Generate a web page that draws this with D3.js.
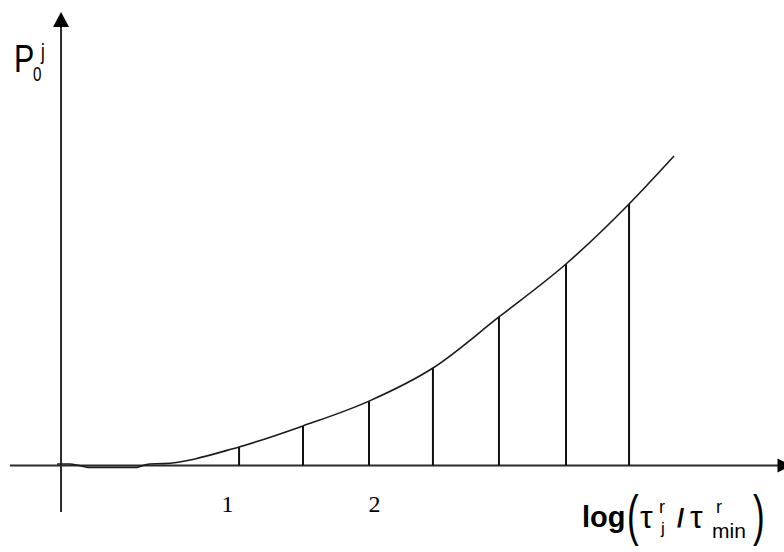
<!DOCTYPE html>
<html>
<head>
<meta charset="utf-8">
<script src="https://cdn.jsdelivr.net/npm/d3@7/dist/d3.min.js"></script>
<style>
  html, body { margin: 0; padding: 0; background: #ffffff; }
  svg { display: block; }
</style>
</head>
<body>
<svg id="chart" width="784" height="552"></svg>
<script>
// ---- data ----
const xTickValues = [1, 2];
const xTickLabels = ["1", "2"];
const barX = [1.082, 1.517, 1.966, 2.401, 2.850, 3.306, 3.735];
const barY = [0.060, 0.128, 0.208, 0.315, 0.480, 0.651, 0.845];
const curveX = [-0.156, -0.068, -0.007, 0.054, 0.388, 0.429, 0.476, 0.565,
                1.082, 1.517, 1.966, 2.401, 2.850, 3.306, 3.735, 4.041];
const curveY = [0.005, 0.005, 0.0, -0.006, -0.006, 0.0, 0.005, 0.006,
                0.060, 0.128, 0.208, 0.315, 0.480, 0.651, 0.845, 1.0];
const xAxisExtent = [-0.476, 4.9];
const yAxisOrigin = -0.129;
const yAxisExtent = [-0.15, 1.465];

// ---- scales ----
const svg = d3.select("#chart");
const x = d3.scaleLinear().domain([0, 1]).range([80, 227]);
const y = d3.scaleLinear().domain([0, 1]).range([465.5, 156]);
const axisColor = "#2a2a2a";

// x axis line
svg.append("line")
  .attr("x1", x(xAxisExtent[0])).attr("x2", x(xAxisExtent[1]))
  .attr("y1", y(0)).attr("y2", y(0))
  .attr("stroke", axisColor).attr("stroke-width", 2);
const ax = x(4.745);
svg.append("path")
  .attr("d", `M${ax},${y(0) - 7}L${ax + 14},${y(0)}L${ax},${y(0) + 7}Z`)
  .attr("fill", "#000");

// y axis line
const yx = x(yAxisOrigin);
svg.append("line")
  .attr("x1", yx).attr("x2", yx)
  .attr("y1", y(yAxisExtent[0])).attr("y2", y(yAxisExtent[1]) + 6)
  .attr("stroke", axisColor).attr("stroke-width", 2);
const ty = y(yAxisExtent[1]);
svg.append("path")
  .attr("d", `M${yx},${ty}L${yx + 8},${ty + 15}L${yx - 8},${ty + 15}Z`)
  .attr("fill", "#000");

// tick labels via d3 axis
const xAxis = d3.axisBottom(x).tickValues(xTickValues)
  .tickFormat((d, i) => xTickLabels[i]).tickSize(0);
const gAxis = svg.append("g").attr("transform", `translate(0,${y(0)})`).call(xAxis);
gAxis.select(".domain").remove();
gAxis.selectAll("text")
  .attr("y", 46.5).attr("dy", null)
  .attr("font-family", "'Liberation Serif', 'Times New Roman', serif")
  .attr("font-size", 24).attr("fill", "#000");

// vertical bars
svg.append("g").selectAll("line").data(barX).join("line")
  .attr("x1", d => x(d)).attr("x2", d => x(d))
  .attr("y1", y(0)).attr("y2", (d, i) => y(barY[i]))
  .attr("stroke", "#111").attr("stroke-width", 2);

// curve
const pts = curveX.map((d, i) => [d, curveY[i]]);
const line = d3.line().x(d => x(d[0])).y(d => y(d[1])).curve(d3.curveMonotoneX);
svg.append("path").datum(pts)
  .attr("d", line).attr("fill", "none")
  .attr("stroke", "#1a1a1a").attr("stroke-width", 1.6);

// y label P_0^j
const sans = "'Liberation Sans', Arial, sans-serif";
function scaledText(parent, tx, ty, sx, sy, size, str, weight) {
  parent.append("g").attr("transform", `translate(${tx},${ty}) scale(${sx},${sy})`)
    .append("text").attr("x", 0).attr("y", 0)
    .attr("font-family", sans).attr("font-size", size)
    .attr("font-weight", weight || "normal").attr("fill", "#000").text(str);
}
scaledText(svg, 14, 72, 0.8, 1, 38, "P");
scaledText(svg, 33, 80.5, 0.8, 1.05, 19, "0");
scaledText(svg, 41, 59, 0.9, 1.15, 19, "j");

// x label log(τ_j^r / τ_min^r)
const lab = svg.append("g").attr("fill", "#000");
scaledText(lab, 582, 527, 1, 1, 29, "log", "bold");
scaledText(lab, 627, 533.5, 0.9, 1.4, 39, "(");
scaledText(lab, 640, 528, 1, 1, 32, "τ");
scaledText(lab, 659, 513, 1, 1, 18, "r");
scaledText(lab, 661, 534, 1, 1, 17, "j");
scaledText(lab, 677, 527, 1, 1, 26, "/", "bold");
scaledText(lab, 690, 528, 1, 1, 32, "τ");
scaledText(lab, 716, 513, 1, 1, 18, "r");
scaledText(lab, 712, 538, 1, 1, 21, "min");
scaledText(lab, 753, 533.5, 0.9, 1.4, 39, ")");
</script>
</body>
</html>
